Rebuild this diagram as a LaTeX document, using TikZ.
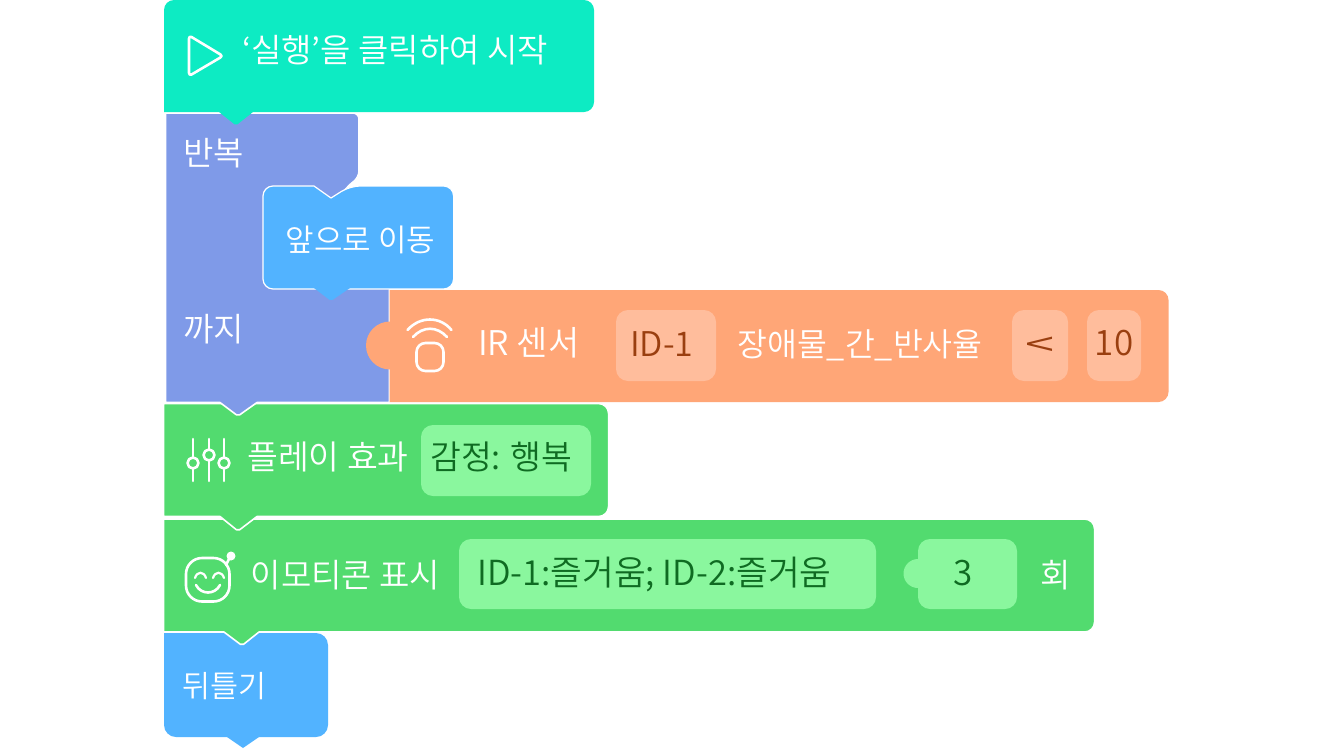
\documentclass[tikz,border=0pt]{standalone}
\usepackage{fontspec}
\usepackage{graphicx}
\setmainfont{Noto Sans CJK KR}[UprightFont={* DemiLight}]
\definecolor{teal}{HTML}{0DEBC3}
\definecolor{purp}{HTML}{7F9AE8}
\definecolor{blu}{HTML}{52B3FF}
\definecolor{org}{HTML}{FFA677}
\definecolor{orgin}{HTML}{FFBD9C}
\definecolor{orgtx}{HTML}{9A3F10}
\definecolor{grn}{HTML}{52DB6F}
\definecolor{grnin}{HTML}{8AF79E}
\definecolor{grntx}{HTML}{0F6B22}
\tikzset{
  x=1pt,y=-1pt,
  block/.style={draw=white,line width=1.6pt,line join=round},
  slot/.style={rounded corners=12pt},
  fs/.style={font=\fontsize{#1}{#1}\selectfont},
  lab/.style={inner sep=0pt,anchor=base west,text=white,fs=33},
  orgval/.style={inner sep=0pt,anchor=base,text=orgtx,fs=33},
  grnval/.style={inner sep=0pt,anchor=base west,text=grntx,fs=33},
  icon/.style={draw=white,line width=2.6pt,line cap=round,line join=round,fill=none}
}
\begin{document}
\begin{tikzpicture}
\useasboundingbox (0,0) rectangle (1334,750);
\fill[white] (0,0) rectangle (1334,750);
% bottom blue
\fill[blu] (164,633) [rounded corners=12pt] -- (164,737) -- (328,737) -- (328,633) -- (164,633) -- cycle;
\fill[blu] (227,737) -- (243,748) -- (259,737) -- cycle;
% green 2
\path[block,fill=grn] (163.5,519) -- (163.5,632) -- (224,632) [rounded corners=2pt] -- (242,645.5) [sharp corners] -- (259,632) [rounded corners=10pt] -- (1094.6,632) -- (1094.6,519) [sharp corners] -- cycle;
\fill[grnin,slot] (459,539) rectangle (876,609);
\fill[grnin,slot] (918,539) rectangle (1017,609);
\fill[grnin] (918,573.5) circle[radius=14.5];
% green 1
\path[block,fill=grn] (163.5,403.5) -- (163.5,516.5) -- (220,516.5) [rounded corners=2pt] -- (238,531) [sharp corners] -- (257,516.5) [rounded corners=10pt] -- (608.6,516.5) -- (608.6,403.5) [sharp corners] -- cycle;
\fill[grnin,slot] (421,425) rectangle (591,496);
% purple
\path[block,fill=purp] (165.5,113) -- (165.5,402.5) -- (220,402.5) [rounded corners=2pt] -- (238,416) [sharp corners] -- (257,402.5) -- (389.5,402.5) -- (389.5,280) -- (340,280) -- (340,195) -- (350,184.5) [rounded corners=6pt] -- (359,177) -- (359,113) [sharp corners] -- cycle;
% inner blue
\path[block,line width=1.2pt,fill=blu,rounded corners=10pt] (300,186) -- (263,186) -- (263,289) -- (453.6,289) -- (453.6,186) -- (350,186) [sharp corners] -- (331,198) -- (314,186) -- cycle;
\fill[blu] (314,288) [rounded corners=2pt] -- (331,301) [sharp corners] -- (350,288) -- cycle;
% orange
\fill[org] (389.5,290) -- (389.5,402) [rounded corners=10pt] -- (1168.5,402) -- (1168.5,290) [sharp corners] -- cycle;
\fill[org] (390,345.5) circle[radius=24];
\fill[orgin,slot] (616,310) rectangle (716,381);
\fill[orgin,slot] (1012,310) rectangle (1068,381);
\fill[orgin,slot] (1087,310) rectangle (1141,381);
% teal
\fill[teal] (164,112) [rounded corners=10pt] -- (164,0) -- (594,0) -- (594,112) [sharp corners] -- (253,112) [rounded corners=2pt] -- (236,125.5) [sharp corners] -- (219,112) -- cycle;
% icons
\draw[icon,rounded corners=3pt] (189,35.5) -- (189,76) -- (223,56) -- cycle;
% IR icon
\draw[icon,rounded corners=9pt] (416.5,343) rectangle (443.5,371);
\draw[icon] (407.5,330) .. controls (420,316) and (440,316) .. (451.5,330);
\draw[icon] (413,337) .. controls (423,326) and (437,326) .. (447,337);
% sliders
\draw[icon] (193,439) -- (193,457) (193,469) -- (193,481);
\draw[icon] (209,439) -- (209,449) (209,461) -- (209,481);
\draw[icon] (224,439) -- (224,457) (224,469) -- (224,481);
\draw[icon] (193,463) circle[radius=5.5] (209,455) circle[radius=5.5] (224,463) circle[radius=5.5];
% smiley
\draw[icon,rounded corners=16pt] (186,558) rectangle (229.5,601.5);
\draw[icon] (226,565) -- (230,557);
\fill[white] (231,556) circle[radius=4.5];
\draw[icon,line width=2.2pt] (195,578) .. controls (197,571) and (204,571) .. (206,578);
\draw[icon,line width=2.2pt] (213,578) .. controls (215,571) and (222,571) .. (224,578);
\draw[icon] (196,585) .. controls (201,595) and (215,595) .. (220,585);
% text
\node[lab] (t1) at (242,62) {‘실행’을 클릭하여 시작};
\node[lab] (t2) at (183,165) {반복};
\node[lab,fs=31] (t3) at (285.5,251) {앞으로 이동};
\node[lab] (t4) at (183,341) {까지};
\node[lab,fs=34] (t5) at (478,355) {IR 센서};
\node[orgval,anchor=base west,fs=34] (t6) at (630,356) {ID-1};
\node[lab,fs=32.5] (t7) at (737,356) {장애물\_간\_반사율};
\node[orgval] (t8) at (1040,356) {\scalebox{1.6}[1]{<}};
\node[orgval,fs=35] (t9) at (1114,355) {10};
\node[lab,fs=33.5] (t10) at (247,469) {플레이 효과};
\node[grnval,fs=33.5] (t11) at (430,469) {감정: 행복};
\node[lab] (t12) at (250.5,587) {이모티콘 표시};
\node[grnval,fs=34.5] (t13) at (477,585) {ID-1:즐거움; ID-2:즐거움};
\node[grnval,anchor=base,fs=35] (t14) at (963,585) {3};
\node[lab,anchor=base] (t15) at (1056,587) {회};
\node[lab,fs=30.5] (t16) at (182.5,697) {뒤틀기};
\end{tikzpicture}
\end{document}
